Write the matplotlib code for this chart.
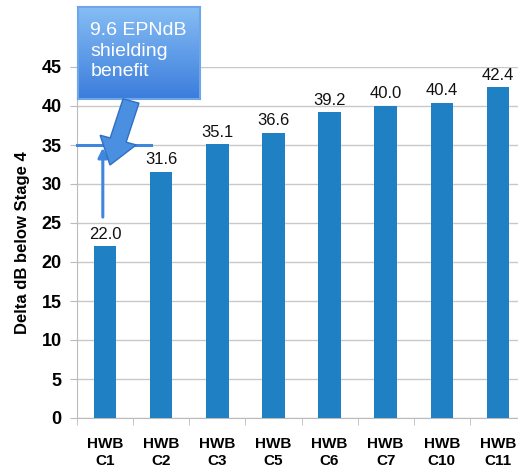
import numpy as np
import matplotlib
matplotlib.use("Agg")
import matplotlib.pyplot as plt
from matplotlib.patches import FancyArrow
from matplotlib.colors import LinearSegmentedColormap

plt.rcParams["font.family"] = ["Liberation Sans", "DejaVu Sans"]

categories = ["HWB\nC1", "HWB\nC2", "HWB\nC3", "HWB\nC5", "HWB\nC6", "HWB\nC7", "HWB\nC10", "HWB\nC11"]
values = [22.0, 31.6, 35.1, 36.6, 39.2, 40.0, 40.4, 42.4]
yticks = [0, 5, 10, 15, 20, 25, 30, 35, 40, 45]
benefit_level = 35
benefit_text = "9.6 EPNdB\nshielding\nbenefit"

bar_color = "#1f80c4"
note_color = "#3f86dc"

fig = plt.figure(figsize=(5.18, 4.68), dpi=100)
W, H = 518, 468
ax = fig.add_axes([77 / W, 50 / H, 449 / W, 351 / H])

x = np.arange(len(categories))
ax.bar(x, values, width=0.4, color=bar_color, zorder=3)
for xi, v in zip(x, values):
    ax.text(xi, v + 0.6, f"{v:.1f}", ha="center", va="bottom", fontsize=12, color="#111111", zorder=4)

ax.set_xlim(-0.5, len(categories) - 0.5)
ax.set_ylim(0, 45)
ax.set_yticks(yticks)
ax.set_yticklabels([str(t) for t in yticks], fontsize=13, fontweight="bold")
ax.set_xticks(x)
ax.set_xticklabels(categories, fontsize=11, fontweight="bold")
ax.set_xticks(np.arange(len(categories) + 1) - 0.5, minor=True)
ax.tick_params(axis="x", which="major", length=0, pad=14)
ax.tick_params(axis="x", which="minor", length=5, color="#bbbbbb")
ax.tick_params(axis="y", length=5, color="#bbbbbb", pad=6)
ax.grid(axis="y", color="#c8c8c8", linewidth=1, zorder=0)
for s in ["top", "right"]:
    ax.spines[s].set_visible(False)
for s in ["left", "bottom"]:
    ax.spines[s].set_color("#bbbbbb")
ax.set_ylabel("Delta dB below Stage 4", fontsize=12, fontweight="bold", labelpad=8)

# reference level and the gap up from the first configuration
ax.plot([-0.5, 0.82], [benefit_level, benefit_level], color=note_color, lw=2.2, zorder=5, clip_on=False)
ax.annotate("", xy=(-0.04, benefit_level), xytext=(-0.04, values[0] + 3.4),
            arrowprops=dict(arrowstyle="-|>", color=note_color, lw=2.2, mutation_scale=14),
            zorder=5)

# callout box with gradient fill
bx = fig.add_axes([78 / W, 1 - 99 / H, 122 / W, 92 / H])
grad = np.linspace(0, 1, 100).reshape(-1, 1)
cmap = LinearSegmentedColormap.from_list("callout", ["#86bdf4", "#3b7ddc"])
bx.imshow(grad, aspect="auto", cmap=cmap, extent=[0, 1, 0, 1], origin="upper")
bx.set_xticks([])
bx.set_yticks([])
for s in bx.spines.values():
    s.set_color("#6fa6e8")
    s.set_linewidth(1.5)
bx.text(0.1, 0.52, benefit_text, transform=bx.transAxes, ha="left", va="center",
        color="white", fontsize=14, linespacing=1.25)

# block arrow from the callout down to the reference level
tail = (131, 101)
tip = (110, 165)
fx0, fy0 = tail[0] / W, 1 - tail[1] / H
dx, dy = (tip[0] - tail[0]) / W, -(tip[1] - tail[1]) / H
arr = FancyArrow(fx0, fy0, dx, dy, width=15 / H, head_width=34 / H, head_length=26 / H,
                 length_includes_head=True, transform=fig.transFigure,
                 facecolor="#4a8fe0", edgecolor="#2f6fc4", lw=1, zorder=10)
fig.patches.append(arr)

fig.savefig("out.png", dpi=100)
